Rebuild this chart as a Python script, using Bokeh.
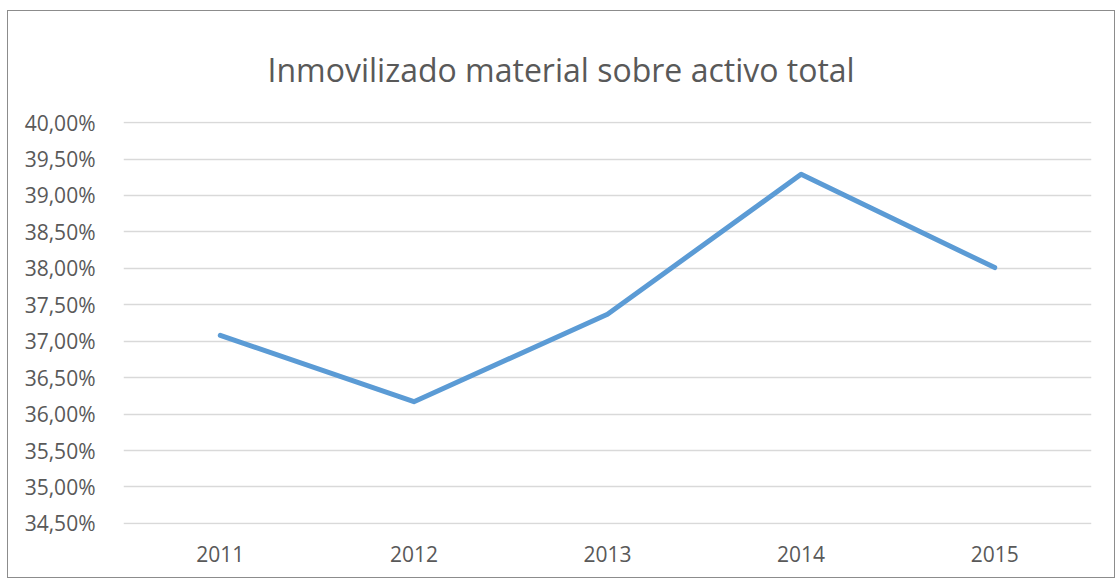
from bokeh.plotting import figure
from bokeh.models import Range1d, FixedTicker, Title
from bokeh.embed import file_html
from bokeh.resources import INLINE

years = ["2011", "2012", "2013", "2014", "2015"]
values = [37.08, 36.17, 37.37, 39.29, 38.01]
y_ticks = [34.5, 35.0, 35.5, 36.0, 36.5, 37.0, 37.5, 38.0, 38.5, 39.0, 39.5, 40.0]
y_tick_labels = ["34,50%", "35,00%", "35,50%", "36,00%", "36,50%", "37,00%",
                 "37,50%", "38,00%", "38,50%", "39,00%", "39,50%", "40,00%"]
title_text = "Inmovilizado material sobre activo total"

FONT = "Open Sans"
TEXT = "#595959"

p = figure(width=1108, height=568, x_range=years, y_range=Range1d(34.485, 40.015),
           output_backend="svg", toolbar_location=None,
           min_border_left=115, min_border_right=25, min_border_top=110,
           min_border_bottom=55)
p.styles = {"border": "1.5px solid #8c8c8c", "margin-left": "7px", "margin-top": "10px"}
p.outline_line_color = None
p.background_fill_color = "white"
p.border_fill_color = "white"

p.line(x=years, y=values, line_color="#5b9bd5", line_width=5,
       line_join="round", line_cap="round")

p.yaxis.ticker = FixedTicker(ticks=y_ticks)
p.yaxis.major_label_overrides = {t: l for t, l in zip(y_ticks, y_tick_labels)}
for ax in (p.xaxis, p.yaxis):
    ax.axis_line_color = None
    ax.major_tick_line_color = None
    ax.minor_tick_line_color = None
    ax.major_label_text_font = FONT
    ax.major_label_text_font_size = "21px"
    ax.major_label_text_color = TEXT
p.yaxis.major_label_standoff = 22
p.xaxis.major_label_standoff = 15

p.xgrid.grid_line_color = None
p.ygrid.grid_line_color = "#d9d9d9"
p.ygrid.grid_line_width = 1.5

p.add_layout(Title(text=title_text, text_font=FONT, text_font_size="32px",
                   text_font_style="normal", text_color=TEXT, align="left",
                   offset=144, standoff=62), "above")

open("out.html", "w").write(file_html(p, INLINE))
